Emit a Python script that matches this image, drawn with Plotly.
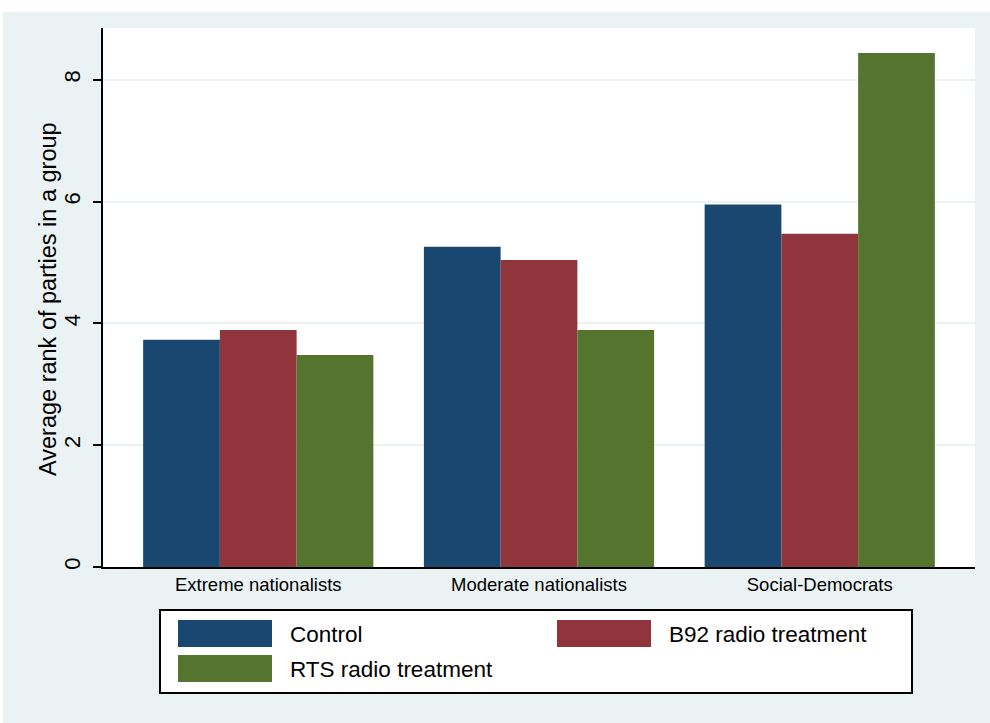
import plotly.graph_objects as go

# Donnees
categories = ["Extreme nationalists", "Moderate nationalists", "Social-Democrats"]
series_names = ["Control", "B92 radio treatment", "RTS radio treatment"]
control = [3.73, 5.26, 5.95]
b92 = [3.89, 5.04, 5.47]
rts = [3.48, 3.89, 8.44]
y_ticks = [0, 2, 4, 6, 8]
y_title = "Average rank of parties in a group"

colors = ["#1A476F", "#90353B", "#55752F"]
bg = "#EAF2F3"
FONT = "Liberation Sans"

W, H = 990, 723
L, R, T, B = 103, 975, 28, 567  # zone de trace en pixels


def px_x(p):
    return (p - L) / (R - L)


def px_y(p):
    return (B - p) / (B - T)


fig = go.Figure()
for name, vals, col in zip(series_names, [control, b92, rts], colors):
    fig.add_trace(go.Bar(
        x=categories, y=vals, name=name,
        marker=dict(color=col, line=dict(width=0)),
    ))

shapes = [
    # fond gris-bleu facon Stata
    dict(type="rect", xref="paper", yref="paper", layer="below",
         x0=px_x(3), x1=px_x(W + 5), y0=px_y(12), y1=px_y(H + 5),
         fillcolor=bg, line=dict(width=0)),
    dict(type="rect", xref="paper", yref="paper", layer="below",
         x0=0, x1=1, y0=0, y1=1, fillcolor="white", line=dict(width=0)),
    # cadre de la legende
    dict(type="rect", xref="paper", yref="paper",
         x0=px_x(160), x1=px_x(912), y0=px_y(610), y1=px_y(693),
         fillcolor="white", line=dict(color="black", width=2)),
]

# titre de l'axe y
annotations = [dict(xref="paper", yref="paper", x=px_x(48), y=px_y(299),
                    xanchor="center", yanchor="middle", showarrow=False,
                    textangle=-90, text=y_title,
                    font=dict(family=FONT, size=23.5, color="black"))]

legend_pos = [(178, 620, 288), (557, 620, 667), (178, 655, 288)]
for (sx, sy, tx), name, col in zip(legend_pos, series_names, colors):
    shapes.append(dict(type="rect", xref="paper", yref="paper",
                       x0=px_x(sx), x1=px_x(sx + 94),
                       y0=px_y(sy), y1=px_y(sy + 27),
                       fillcolor=col, line=dict(width=0)))
    annotations.append(dict(xref="paper", yref="paper",
                            x=px_x(tx), y=px_y(sy + 14),
                            xanchor="left", yanchor="middle", showarrow=False,
                            text=name, font=dict(family=FONT, size=22.5, color="black")))

fig.update_layout(
    width=W, height=H,
    margin=dict(l=L, r=W - R, t=T, b=H - B, pad=0),
    paper_bgcolor="white",
    plot_bgcolor="white",
    barmode="group",
    bargap=0.18,
    bargroupgap=0,
    showlegend=False,
    shapes=shapes,
    annotations=annotations,
    font=dict(family=FONT, color="black"),
)

fig.update_xaxes(
    range=[-0.553, 2.553],
    showline=True, linecolor="black", linewidth=2,
    ticks="", showgrid=False,
    tickfont=dict(size=18.5, family=FONT, color="black"),
)

fig.update_yaxes(
    range=[0, 8.85],
    tickvals=y_ticks,
    showline=True, linecolor="black", linewidth=2,
    ticks="outside", ticklen=8, tickwidth=2, tickcolor="black",
    tickangle=-90,
    ticklabelstandoff=4,
    tickfont=dict(size=22, family=FONT, color="black"),
    showgrid=True, gridcolor=bg, gridwidth=2,
    zeroline=False,
)

fig.write_html("out.html", config={"displayModeBar": False},
               post_script="document.body.style.margin='0';")
